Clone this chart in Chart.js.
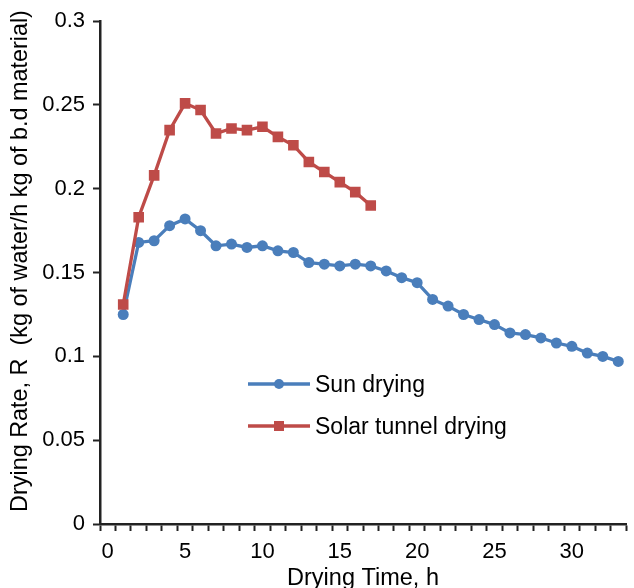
<!DOCTYPE html>
<html>
<head>
<meta charset="utf-8">
<script src="https://cdn.jsdelivr.net/npm/chart.js@4.4.1/dist/chart.umd.min.js"></script>
<style>
  html, body { margin: 0; padding: 0; background: #fff; }
  #wrap { width: 634px; height: 588px; }
</style>
</head>
<body>
<div id="wrap"><canvas id="grafico" width="634" height="588"></canvas></div>
<script>
// --- DADOS ---
const sunHours = [1,2,3,4,5,6,7,8,9,10,11,12,13,14,15,16,17,18,19,20,21,22,23,24,25,26,27,28,29,30,31,32,33];
const sunRate = [0.125,0.168,0.169,0.178,0.182,0.175,0.166,0.167,0.165,0.166,0.163,0.162,0.156,0.155,0.154,0.155,0.154,0.151,0.147,0.144,0.134,0.130,0.125,0.122,0.119,0.114,0.113,0.111,0.108,0.106,0.102,0.100,0.097];
const tunnelHours = [1,2,3,4,5,6,7,8,9,10,11,12,13,14,15,16,17];
const tunnelRate = [0.131,0.183,0.208,0.235,0.251,0.247,0.233,0.236,0.235,0.237,0.231,0.226,0.216,0.210,0.204,0.198,0.190];
const seriesNames = ['Sun drying', 'Solar tunnel drying'];
const yTicks = [0, 0.05, 0.1, 0.15, 0.2, 0.25, 0.3];
const xLabelTicks = [0, 5, 10, 15, 20, 25, 30];
const yTitle = 'Drying Rate, R  (kg of water/h kg of b.d material)';

const azul = '#4a7ebb';
const vermelho = '#be4b48';
const fonte = 'Liberation Sans, Arial, sans-serif';

const pares = (xs, ys) => xs.map((x, i) => ({ x: x, y: ys[i] }));

// legenda dentro da área do gráfico + título do eixo Y
const legendaInterna = {
  id: 'legendaInterna',
  afterDraw(chart) {
    const ctx = chart.ctx;
    const itens = [
      { ds: chart.data.datasets[0], y: 384 },
      { ds: chart.data.datasets[1], y: 426 }
    ];
    ctx.save();
    itens.forEach(it => {
      ctx.strokeStyle = it.ds.borderColor;
      ctx.lineWidth = 3.3;
      ctx.beginPath();
      ctx.moveTo(248, it.y);
      ctx.lineTo(310, it.y);
      ctx.stroke();
      ctx.fillStyle = it.ds.borderColor;
      if (it.ds.pointStyle === 'rect') {
        ctx.fillRect(279 - 5, it.y - 5, 10, 10);
      } else {
        ctx.beginPath();
        ctx.arc(279, it.y, 5, 0, Math.PI * 2);
        ctx.fill();
      }
      ctx.fillStyle = '#000';
      ctx.font = '23px ' + fonte;
      ctx.textBaseline = 'middle';
      ctx.fillText(it.ds.label, 315, it.y + 2);
    });

    // título Y
    ctx.translate(21, 261);
    ctx.rotate(-Math.PI / 2);
    ctx.font = '23.4px ' + fonte;
    ctx.textAlign = 'center';
    ctx.textBaseline = 'middle';
    ctx.fillStyle = '#000';
    ctx.fillText(yTitle, 0, 0);
    ctx.restore();
  }
};

const meio = (v) => Math.abs(v - Math.floor(v) - 0.5) < 1e-6;
const temRotulo = (v) => xLabelTicks.some(t => Math.abs(t - v) < 1e-6);

new Chart(document.getElementById('grafico'), {
  type: 'line',
  data: {
    datasets: [
      {
        label: seriesNames[0],
        data: pares(sunHours, sunRate),
        borderColor: azul,
        backgroundColor: azul,
        borderWidth: 3.3,
        pointStyle: 'circle',
        pointRadius: 5.5,
        pointBorderWidth: 0,
        order: 1
      },
      {
        label: seriesNames[1],
        data: pares(tunnelHours, tunnelRate),
        borderColor: vermelho,
        backgroundColor: vermelho,
        borderWidth: 3.3,
        pointStyle: 'rect',
        pointRadius: 7.5,
        pointBorderWidth: 0,
        order: 0
      }
    ]
  },
  options: {
    responsive: false,
    animation: false,
    layout: { padding: { top: 21, right: 0, left: 0, bottom: 0 } },
    plugins: { legend: { display: false }, tooltip: { enabled: false } },
    scales: {
      x: {
        type: 'linear',
        min: -0.5,
        max: 33.5,
        afterFit: (s) => { s.height = 64; },
        afterBuildTicks: (s) => {
          const t = [];
          for (let v = -0.5; v <= 33.5; v += 0.5) t.push({ value: v });
          s.ticks = t;
        },
        ticks: {
          autoSkip: false,
          maxRotation: 0,
          padding: 8,
          color: '#000',
          font: { family: fonte, size: 22 },
          callback: (v) => temRotulo(v) ? String(Math.round(v)) : ''
        },
        grid: {
          drawOnChartArea: false,
          tickLength: 7,
          tickWidth: 2,
          tickColor: (c) => (c.tick && meio(c.tick.value)) ? '#222' : 'rgba(0,0,0,0)'
        },
        border: { display: true, color: '#222', width: 2.5 },
        title: {
          display: true,
          text: 'Drying Time, h',
          color: '#000',
          font: { family: fonte, size: 23.5, lineHeight: 0.8 },
          padding: { top: 0, bottom: 0 }
        }
      },
      y: {
        min: 0,
        max: 0.3,
        afterFit: (s) => { s.width = 100; },
        afterBuildTicks: (s) => { s.ticks = yTicks.map(v => ({ value: v })); },
        ticks: {
          padding: 8,
          color: '#000',
          font: { family: fonte, size: 22 },
          callback: (v) => String(+v.toFixed(2))
        },
        grid: {
          drawOnChartArea: false,
          tickLength: 7,
          tickWidth: 2,
          tickColor: '#222'
        },
        border: { display: true, color: '#222', width: 2.5 },
        title: { display: false }
      }
    }
  },
  plugins: [legendaInterna]
});
</script>
</body>
</html>
